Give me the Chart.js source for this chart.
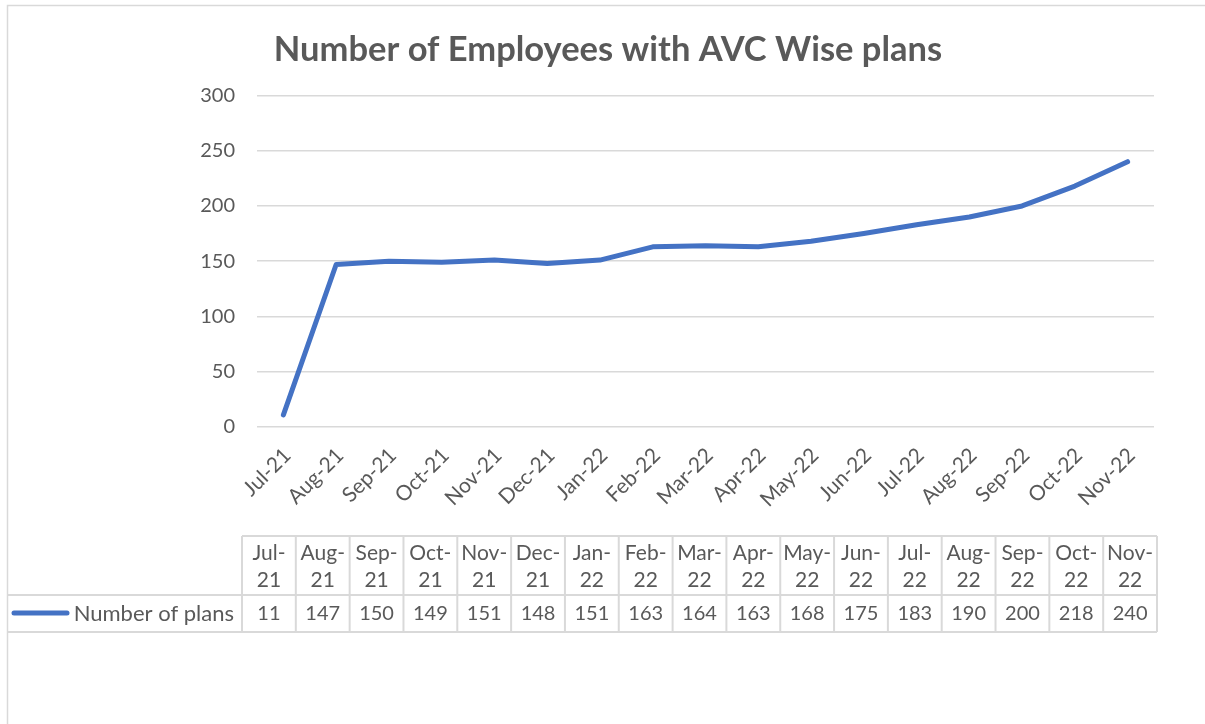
<!DOCTYPE html>
<html>
<head>
<meta charset="utf-8">
<script src="https://cdn.jsdelivr.net/npm/chart.js@4/dist/chart.umd.min.js"></script>
<style>
    html, body { margin: 0; padding: 0; background: #fff; }
    #wrap { width: 1205px; height: 724px; position: relative; }
</style>
</head>
<body>
<div id="wrap"><canvas id="chart" width="1205" height="724"></canvas></div>
<script>
// Data
const months = ['Jul-21', 'Aug-21', 'Sep-21', 'Oct-21', 'Nov-21', 'Dec-21', 'Jan-22', 'Feb-22', 'Mar-22',
    'Apr-22', 'May-22', 'Jun-22', 'Jul-22', 'Aug-22', 'Sep-22', 'Oct-22', 'Nov-22'];
const plans = [11, 147, 150, 149, 151, 148, 151, 163, 164, 163, 168, 175, 183, 190, 200, 218, 240];
const seriesName = 'Number of plans';
const chartTitle = 'Number of Employees with AVC Wise plans';
const yMin = 0;
const yMax = 300;
const yStep = 50;

const FONT = 'Lato, "Open Sans", sans-serif';
const TEXT = '#595959';
const GRID = '#d9d9d9';
const BLUE = '#4472C4';

// outer frame of the chart object
const framePlugin = {
    id: 'frame',
    beforeDraw(chart) {
        const ctx = chart.ctx;
        ctx.save();
        ctx.fillStyle = '#fff';
        ctx.fillRect(0, 0, chart.width, chart.height);
        ctx.strokeStyle = GRID;
        ctx.lineWidth = 1.5;
        ctx.strokeRect(7.5, 5.5, chart.width + 10, chart.height + 10);
        ctx.restore();
    }
};

// Excel style data table under the axis
const tablePlugin = {
    id: 'dataTable',
    afterDraw(chart) {
        const ctx = chart.ctx;
        const area = chart.chartArea;
        const left = area.left - 15;
        const right = area.right + 3;
        const colW = (right - left) / months.length;
        const top = 536, mid = 595, bottom = 632;

        const line = (x1, y1, x2, y2) => {
            ctx.beginPath();
            ctx.moveTo(x1, y1);
            ctx.lineTo(x2, y2);
            ctx.stroke();
        };

        ctx.save();
        ctx.strokeStyle = GRID;
        ctx.lineWidth = 2;
        line(left, top, right, top);
        line(7, mid, right, mid);
        line(7, bottom, right, bottom);
        for (let i = 0; i <= months.length; i++) {
            const x = left + i * colW;
            line(x, top, x, bottom);
        }

        ctx.fillStyle = TEXT;
        ctx.textAlign = 'center';
        ctx.textBaseline = 'middle';
        months.forEach((m, i) => {
            const cx = left + (i + 0.5) * colW;
            const parts = m.split('-');
            ctx.font = '21px ' + FONT;
            ctx.fillText(parts[0] + '-', cx, 553);
            ctx.fillText(parts[1], cx, 580);
            ctx.font = '20px ' + FONT;
            ctx.fillText(String(plans[i]), cx, 614);
        });

        // legend key
        ctx.strokeStyle = BLUE;
        ctx.lineWidth = 5;
        ctx.lineCap = 'round';
        line(14, 613, 67, 613);
        ctx.font = '22px ' + FONT;
        ctx.textAlign = 'right';
        ctx.fillText(seriesName, left - 8, 614);
        ctx.restore();
    }
};

new Chart(document.getElementById('chart').getContext('2d'), {
    type: 'line',
    data: {
        labels: months,
        datasets: [{
            label: seriesName,
            data: plans,
            borderColor: BLUE,
            backgroundColor: BLUE,
            borderWidth: 5,
            borderCapStyle: 'round',
            borderJoinStyle: 'round',
            pointRadius: 0,
            tension: 0
        }]
    },
    options: {
        responsive: false,
        animation: false,
        layout: { padding: { left: 62, right: 51, top: 0, bottom: 0 } },
        plugins: {
            legend: { display: false },
            tooltip: { enabled: false },
            title: {
                display: true,
                text: chartTitle,
                color: TEXT,
                font: { family: FONT, size: 34.5, weight: 'bold' },
                padding: { top: 29, bottom: 25 }
            }
        },
        scales: {
            x: {
                offset: true,
                grid: { display: false, offset: true },
                border: { display: false },
                ticks: {
                    color: TEXT,
                    font: { family: FONT, size: 21 },
                    minRotation: 45,
                    maxRotation: 45,
                    autoSkip: false,
                    padding: 8,
                    labelOffset: 4
                },
                afterFit(scale) { scale.height = 297; }
            },
            y: {
                min: yMin,
                max: yMax,
                grid: { color: GRID, lineWidth: 1.5, drawTicks: false },
                border: { display: false },
                ticks: {
                    stepSize: yStep,
                    color: TEXT,
                    font: { family: FONT, size: 20 },
                    padding: 22
                },
                afterFit(scale) { scale.width = 195; }
            }
        }
    },
    plugins: [framePlugin, tablePlugin]
});
</script>
</body>
</html>
